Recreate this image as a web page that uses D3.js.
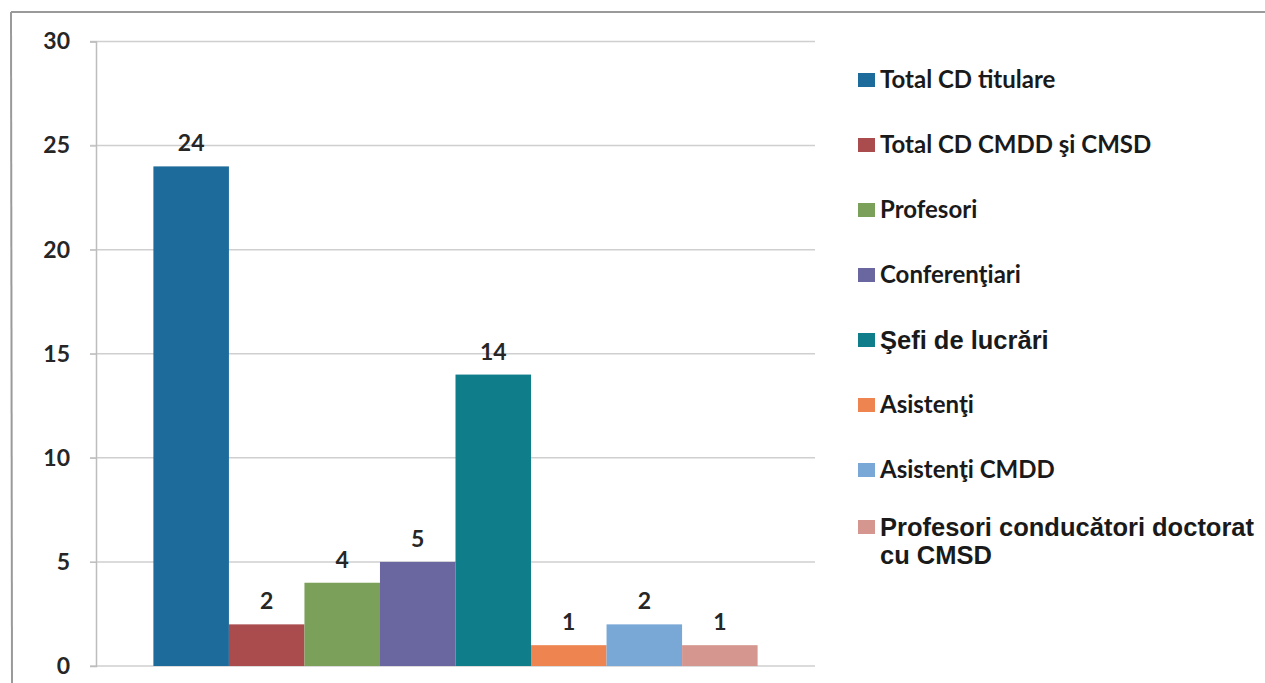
<!DOCTYPE html>
<html>
<head>
  <meta charset="UTF-8">
  <style>
    body { margin: 0; background: #fff; }
    svg { display: block; }
    .tick text, .val { font-family: Lato, "Open Sans", sans-serif; font-weight: bold; fill: #262626; }
  </style>
</head>
<body>
<div id="chart"></div>
<script src="https://d3js.org/d3.v7.min.js"></script>
<script>
// data
var series = ["Total CD titulare", "Total CD CMDD şi CMSD", "Profesori", "Conferenţiari",
              "Şefi de lucrări", "Asistenţi", "Asistenţi CMDD", "Profesori conducători doctorat cu CMSD"];
var values = [24, 2, 4, 5, 14, 1, 2, 1];
var colors = ["#1d6b9b", "#aa4b4e", "#7ba05a", "#6a66a0", "#107d8b", "#ee8450", "#79a8d6", "#d4968e"];
var yTicks = [0, 5, 10, 15, 20, 25, 30];
// the last two legend entries are set in a different (Arial-like) font
var legendArial = [false, false, false, false, true, false, false, true];

var width = 1265, height = 683;
var plot = {left: 96, right: 815, top: 41.5, bottom: 666};

var svg = d3.select("#chart").append("svg")
    .attr("width", width)
    .attr("height", height);

// outer frame (only top and left edges are visible in the scan)
svg.append("line").attr("x1", 11).attr("x2", width).attr("y1", 12).attr("y2", 12)
    .attr("stroke", "#9a9a9a").attr("stroke-width", 2);
svg.append("line").attr("x1", 11).attr("x2", 12).attr("y1", 12).attr("y2", height)
    .attr("stroke", "#9a9a9a").attr("stroke-width", 2);

var x = d3.scaleBand()
    .domain(series)
    .range([plot.left, plot.right])
    .paddingInner(0)
    .paddingOuter(0.76);

var y = d3.scaleLinear()
    .domain([0, 30])
    .range([plot.bottom, plot.top]);

// gridlines
svg.append("g")
  .selectAll("line")
  .data(yTicks)
  .enter().append("line")
    .attr("x1", plot.left - 6)
    .attr("x2", plot.right)
    .attr("y1", d => y(d))
    .attr("y2", d => y(d))
    .attr("stroke", "#cfcfcf")
    .attr("stroke-width", 1.5);

// y axis
var yAxis = svg.append("g")
    .attr("transform", "translate(" + plot.left + ",0)")
    .call(d3.axisLeft(y).tickValues(yTicks).tickSize(6).tickPadding(20));
yAxis.select(".domain").attr("stroke", "#bdbdbd").attr("stroke-width", 1.5);
yAxis.selectAll(".tick line").attr("stroke", "#bdbdbd");
yAxis.selectAll(".tick text").style("font-size", "23px");

// bars
svg.append("g")
  .selectAll("rect")
  .data(values)
  .enter().append("rect")
    .attr("x", (d, i) => x(series[i]))
    .attr("width", x.bandwidth())
    .attr("y", d => y(d))
    .attr("height", d => y(0) - y(d))
    .attr("fill", (d, i) => colors[i]);

// value labels
svg.append("g")
  .selectAll("text")
  .data(values)
  .enter().append("text")
    .attr("class", "val")
    .attr("x", (d, i) => x(series[i]) + x.bandwidth() / 2)
    .attr("y", d => y(d) - 15)
    .attr("text-anchor", "middle")
    .style("font-size", "23px")
    .text(d => d);

// legend
var legend = svg.append("g")
  .selectAll("g")
  .data(series)
  .enter().append("g")
    .attr("transform", (d, i) => "translate(858," + (80 + i * 65) + ")");

legend.append("rect")
    .attr("y", (d, i) => i == 7 ? -15 : -7)
    .attr("width", 17)
    .attr("height", 14)
    .attr("fill", (d, i) => colors[i]);

legend.append("text")
    .attr("x", 22)
    .attr("y", (d, i) => i == 7 ? -8 : 0)
    .attr("dy", "0.35em")
    .style("font-family", (d, i) => legendArial[i] ? "'Liberation Sans', Arial, sans-serif" : "Lato, sans-serif")
    .style("font-weight", "bold")
    .style("font-size", (d, i) => legendArial[i] ? "25.5px" : "24px")
    .style("fill", "#1a1a1a")
    .each(function(d, i) {
      var t = d3.select(this);
      if (i == 7) {
        // wrapped onto two lines like the original
        t.append("tspan").attr("x", 22).text("Profesori conducători doctorat");
        t.append("tspan").attr("x", 22).attr("dy", "1.1em").text("cu CMSD");
      } else {
        t.text(d);
      }
    });
</script>
</body>
</html>
